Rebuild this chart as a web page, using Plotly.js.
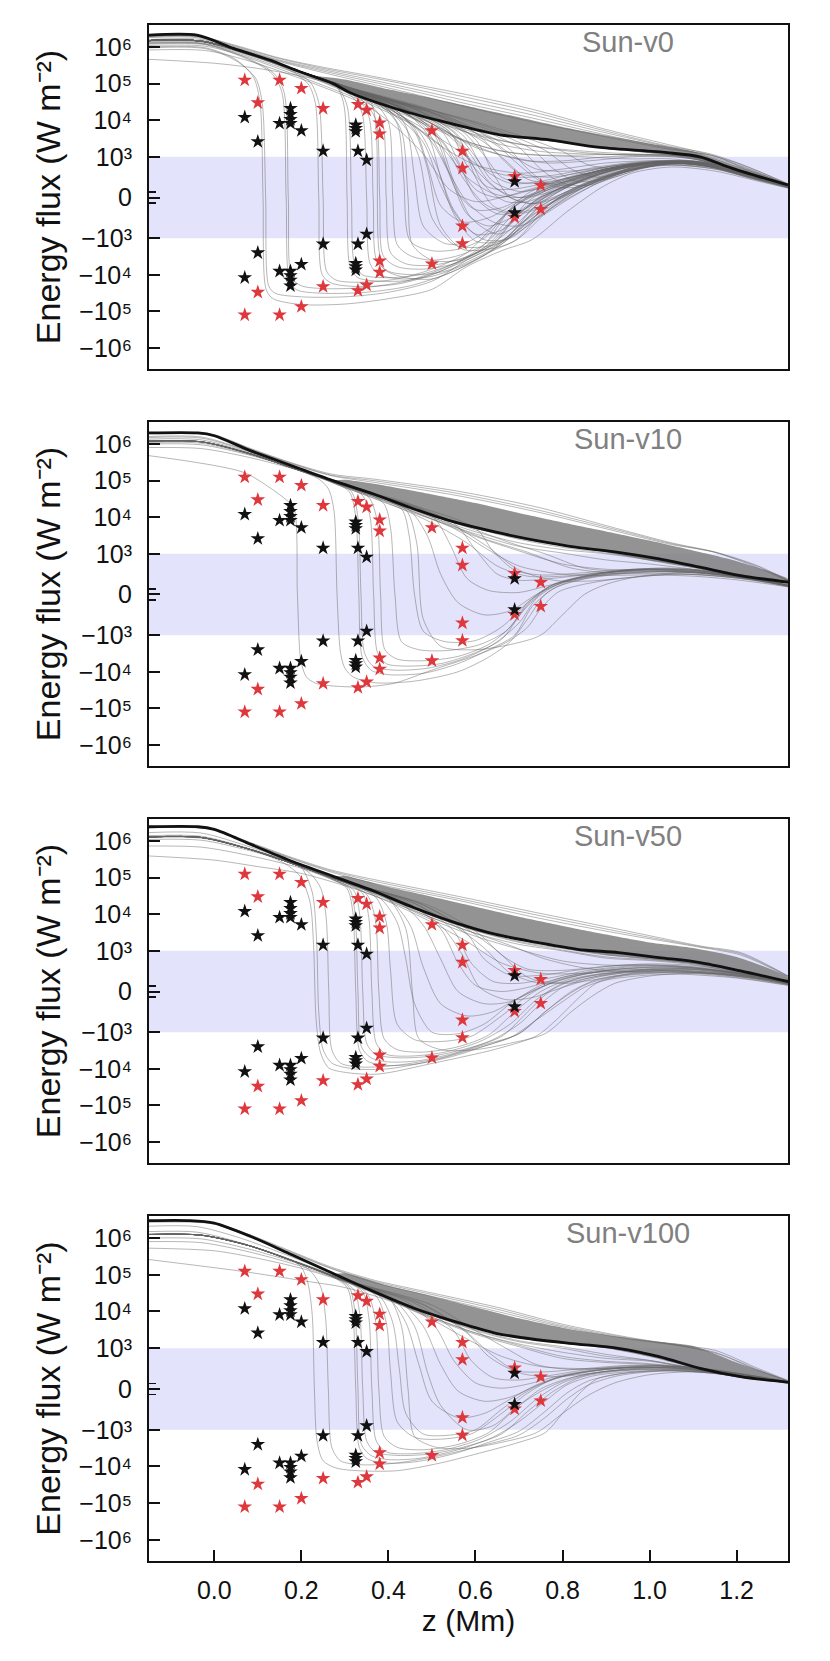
<!DOCTYPE html>
<html><head><meta charset="utf-8">
<script src="https://cdn.plot.ly/plotly-3.0.1.min.js"></script>
<style>body{margin:0;background:#fff}#chart{width:830px;height:1661px}</style>
</head><body><div id="chart"></div>
<script>
// ---------------- data (flux in W m^-2, z in Mm) ----------------
const panelNames = ['Sun-v0','Sun-v10','Sun-v50','Sun-v100'];
const xTickVals = [0,0.2,0.4,0.6,0.8,1.0,1.2];
const xTickText = ['0.0','0.2','0.4','0.6','0.8','1.0','1.2'];
const yTickFlux = [-1e6,-1e5,-1e4,-1e3,0,1e3,1e4,1e5,1e6];
const yTickText = ['\u221210\u2076','\u221210\u2075','\u221210\u2074','\u221210\u00B3','0','10\u00B3','10\u2074','10\u2075','10\u2076'];
const yTitle = 'Energy flux (W m\u207B\u00B2)';

// stars (same in every panel)
const redZ = [0.07,0.07,0.15,0.15,0.20,0.20,0.10,0.10,0.25,0.25,0.33,0.33,0.35,0.35,0.38,0.38,0.38,0.38,0.50,0.50,0.57,0.57,0.57,0.57,0.69,0.69,0.75,0.75];
const redF = [1.25e5,-1.25e5,1.25e5,-1.25e5,7.4e4,-7.4e4,3.0e4,-3.0e4,2.1e4,-2.1e4,2.7e4,-2.7e4,1.9e4,-1.9e4,8.5e3,-8.5e3,4.2e3,-4.2e3,5.2e3,-5.0e3,1.44e3,-1.4e3,720,-700,520,-490,300,-290];
const blackZ = [0.07,0.07,0.10,0.10,0.15,0.15,0.175,0.175,0.175,0.175,0.175,0.175,0.175,0.175,0.20,0.20,0.25,0.25,0.325,0.325,0.325,0.325,0.325,0.325,0.33,0.33,0.35,0.35,0.69,0.69];
const blackF = [1.2e4,-1.2e4,2.6e3,-2.5e3,8.2e3,-8.0e3,2.1e4,1.45e4,1.05e4,8.2e3,-8.0e3,-1.05e4,-1.4e4,-2.0e4,5.2e3,-5.2e3,1.44e3,-1.44e3,7.4e3,6.0e3,4.9e3,-7.4e3,-6.0e3,-4.9e3,1.44e3,-1.44e3,920,-900,390,-375];

// ---- panel 1 (Sun-v0)
const p1BlackZ = [-0.15,-0.04,0.044,0.128,0.197,0.273,0.31,0.427,0.54,0.656,0.77,0.886,1.04,1.116,1.19,1.318];
const p1BlackF = [2.1e6,2.1e6,9.2e5,4.4e5,2.1e5,1.0e5,5.8e4,1.9e4,8.3e3,4.0e3,2.9e3,1.8e3,1.3e3,1.0e3,717,307];
const p1FillZ = [0.22,0.3,0.4,0.5,0.6,0.7,0.8,0.9,1.0,1.1,1.2,1.318];
const p1FillHi = [1.7e5,1.3e5,7e4,4e4,2.2e4,1.2e4,6.5e3,3.8e3,2.3e3,1.4e3,780,320];
const p1FillLo = [1.6e5,7.0e4,2.6e4,1.1e4,5.8e3,3.3e3,2.4e3,1.7e3,1.25e3,950,620,290];
const p1Lines = [
 [-0.15,2.0e6,-0.04,2.0e6,0.05,1.1e6,0.15,5e5,0.25,2.8e5,0.35,1.7e5,0.45,1.0e5,0.58,5e4,0.73,2e4,0.89,6e3,1.04,2.2e3,1.12,1.3e3,1.2,850,1.318,340],
 [-0.15,2.05e6,-0.04,2.05e6,0.05,1.05e6,0.15,4.8e5,0.25,2.6e5,0.35,1.55e5,0.45,9e4,0.58,4.2e4,0.73,1.7e4,0.89,5.4e3,1.04,2.0e3,1.14,1.2e3,1.22,780,1.318,330],
 [-0.15,1.9e6,-0.04,1.9e6,0.05,1.0e6,0.15,4.4e5,0.25,2.4e5,0.35,1.35e5,0.45,7.5e4,0.58,3.4e4,0.73,1.4e4,0.89,4.8e3,1.04,1.9e3,1.12,1.2e3,1.2,800,1.318,320],
 [-0.15,1.95e6,-0.04,1.95e6,0.05,9.5e5,0.15,4.2e5,0.25,2.2e5,0.35,1.2e5,0.45,6.5e4,0.58,2.8e4,0.73,1.15e4,0.89,4.2e3,1.04,1.75e3,1.14,1.1e3,1.22,740,1.318,310],
 [-0.15,1.8e6,-0.04,1.8e6,0.05,9e5,0.15,4e5,0.25,2.0e5,0.35,1.05e5,0.45,5.5e4,0.58,2.3e4,0.73,9e3,0.89,3.7e3,1.04,1.65e3,1.15,1.05e3,1.22,700,1.318,300],
 [-0.15,1.6e6,-0.03,1.6e6,0.06,7.5e5,0.15,3.2e5,0.25,1.3e5,0.35,5e4,0.45,1.8e4,0.55,7e3,0.65,3e3,0.75,1.8e3,0.85,1.3e3,0.95,1.1e3,1.05,1.05e3,1.15,850,1.25,500,1.318,260],
 [-0.15,1.3e6,-0.03,1.25e6,0.06,6.5e5,0.15,2.8e5,0.25,1.1e5,0.35,4e4,0.45,1.2e4,0.55,3.5e3,0.65,1.5e3,0.75,1.1e3,0.85,1.0e3,0.95,950,1.05,950,1.15,800,1.25,450,1.318,240],
 [-0.15,1.1e6,-0.02,1.05e6,0.07,5.5e5,0.15,2.5e5,0.25,9e4,0.35,3e4,0.45,8e3,0.52,2e3,0.6,800,0.7,600,0.8,700,0.9,850,1.0,900,1.1,850,1.2,600,1.318,300],
 [-0.15,4.6e5,0.0,3.6e5,0.1,2.6e5,0.2,1.6e5,0.3,8e4,0.4,3e4,0.5,1e4,0.6,4e3,0.7,2.2e3,0.8,1.6e3,0.9,1.3e3,1.0,1.15e3,1.1,1.0e3,1.2,650,1.318,300],
 [-0.15,8.3e5,-0.02,8e5,0.07,4.5e5,0.15,2.2e5,0.25,8e4,0.35,2.5e4,0.42,6e3,0.48,1.2e3,0.54,200,0.6,-100,0.66,0,0.74,250,0.84,550,0.95,750,1.05,800,1.15,700,1.25,450,1.318,250],
 [-0.15,1.5e6,-0.03,1.45e6,0.08,6.5e5,0.2,2.1e5,0.3,7e4,0.4,2.4e4,0.5,8e3,0.58,2.5e3,0.65,1.2e3,0.72,900,0.8,900,0.9,1e3,1.0,1.05e3,1.1,950,1.2,650,1.318,300],
 [-0.15,1.45e6,-0.03,1.4e6,0.08,6.3e5,0.2,2e5,0.3,6.5e4,0.4,2e4,0.48,6e3,0.55,1.8e3,0.62,700,0.7,500,0.78,550,0.88,750,1.0,900,1.1,880,1.2,620,1.318,290],
 [-0.15,1.35e6,-0.03,1.3e6,0.08,6e5,0.2,1.9e5,0.3,6e4,0.4,1.8e4,0.46,7e3,0.52,2e3,0.58,500,0.64,100,0.7,0,0.77,200,0.86,550,0.96,800,1.06,850,1.16,720,1.26,430,1.318,270]
];
const p1Dips = [
 [-0.15,1.0e6,-0.02,9.5e5,0.05,4.5e5,0.09,1.5e5,0.105,3e4,0.112,0,0.119,-2.5e4,0.135,-4.5e4,0.2,-6.5e4,0.3,-6.3e4,0.4,-4.5e4,0.5,-2.5e4,0.58,-6e3,0.66,-2.2e3,0.73,-1.1e3,0.81,-350,0.89,250,0.96,600,1.05,750,1.15,650,1.25,400,1.318,230],
 [-0.15,9.5e5,-0.02,9e5,0.05,4.2e5,0.095,1.4e5,0.11,3e4,0.118,0,0.125,-2e4,0.14,-3.2e4,0.2,-4e4,0.3,-4e4,0.4,-3e4,0.5,-1.5e4,0.58,-4e3,0.66,-1.3e3,0.72,-500,0.8,0,0.88,400,0.96,700,1.05,800,1.15,700,1.25,420,1.318,240],
 [-0.15,1.2e6,-0.02,1.15e6,0.07,5e5,0.13,2e5,0.155,6e4,0.165,0,0.173,-1.5e4,0.19,-2.6e4,0.25,-3.2e4,0.35,-3e4,0.45,-2e4,0.55,-8e3,0.63,-2.5e3,0.7,-700,0.77,0,0.85,450,0.95,750,1.05,850,1.15,750,1.25,450,1.318,250],
 [-0.15,1.25e6,-0.02,1.2e6,0.07,5.3e5,0.135,2e5,0.16,6e4,0.17,0,0.178,-1.2e4,0.2,-2e4,0.26,-2.4e4,0.35,-2.2e4,0.45,-1.4e4,0.55,-5e3,0.62,-1.5e3,0.68,-300,0.75,200,0.84,550,0.95,800,1.05,850,1.15,750,1.25,450,1.318,260],
 [-0.15,1.45e6,-0.03,1.4e6,0.07,6.5e5,0.17,2.4e5,0.215,1e5,0.232,3e4,0.24,0,0.248,-1e4,0.27,-1.7e4,0.33,-2.1e4,0.42,-1.8e4,0.5,-1e4,0.58,-3.5e3,0.65,-1e3,0.72,-100,0.8,350,0.9,700,1.0,850,1.1,850,1.2,600,1.318,280],
 [-0.15,1.5e6,-0.03,1.45e6,0.07,6.8e5,0.17,2.5e5,0.22,1.1e5,0.24,3e4,0.25,0,0.258,-8e3,0.28,-1.4e4,0.34,-1.6e4,0.42,-1.3e4,0.5,-7e3,0.58,-2.5e3,0.65,-600,0.72,100,0.8,450,0.9,750,1.0,880,1.1,870,1.2,620,1.318,290]
];
const p1Lead = [-0.15,1.5e6,-0.03,1.45e6,0.08,6.5e5,0.2,2.1e5];
const p1Tails = [
 [0.28,8.5e4,0.298,2.5e4,0.305,0,0.312,-6e3,0.33,-1.2e4,0.38,-1.5e4,0.45,-1.4e4,0.52,-8e3,0.6,-3e3,0.67,-1e3,0.74,-200,0.82,300,0.92,700,1.02,870,1.12,850,1.22,580,1.318,280],
 [0.28,8.8e4,0.305,2.5e4,0.315,0,0.322,-5e3,0.34,-1e4,0.4,-1.2e4,0.47,-1e4,0.55,-5e3,0.62,-1.8e3,0.69,-500,0.76,100,0.85,500,0.95,800,1.05,880,1.15,780,1.25,480,1.318,270],
 [0.28,9e4,0.32,4e4,0.34,1.5e4,0.35,0,0.358,-5e3,0.38,-1e4,0.43,-1.3e4,0.5,-1.1e4,0.58,-5e3,0.65,-1.8e3,0.72,-600,0.8,50,0.88,450,0.98,800,1.08,850,1.18,650,1.318,270],
 [0.28,9.2e4,0.33,3.8e4,0.355,1.3e4,0.365,0,0.373,-4e3,0.4,-8e3,0.46,-1e4,0.53,-8e3,0.6,-3.5e3,0.67,-1.2e3,0.74,-300,0.82,200,0.9,550,1.0,820,1.1,840,1.2,600,1.318,280],
 [0.28,9.5e4,0.34,3.5e4,0.37,1.1e4,0.38,0,0.388,-3e3,0.42,-6e3,0.48,-7e3,0.55,-5e3,0.62,-2e3,0.69,-700,0.76,0,0.84,400,0.94,750,1.04,860,1.14,780,1.24,480,1.318,270],
 [0.28,9.5e4,0.35,3.3e4,0.385,1e4,0.395,0,0.405,-2.5e3,0.44,-5e3,0.5,-5.5e3,0.57,-3.5e3,0.64,-1.5e3,0.7,-400,0.78,150,0.86,500,0.96,800,1.06,860,1.16,720,1.26,430,1.318,280],
 [0.3,8e4,0.37,2.8e4,0.4,9e3,0.41,0,0.42,-1.5e3,0.45,-3e3,0.5,-4e3,0.56,-3e3,0.62,-1.5e3,0.68,-500,0.75,0,0.83,400,0.93,700,1.03,850,1.13,780,1.23,480,1.318,270],
 [0.3,8e4,0.38,2.6e4,0.42,8e3,0.435,500,0.45,-1.2e3,0.5,-2.2e3,0.56,-2e3,0.62,-1e3,0.68,-300,0.74,100,0.82,450,0.92,750,1.02,870,1.12,800,1.22,520,1.318,280],
 [0.3,8.2e4,0.4,2.4e4,0.44,7e3,0.46,500,0.48,-700,0.53,-1.4e3,0.58,-1.3e3,0.64,-700,0.7,-150,0.77,200,0.86,550,0.96,800,1.06,870,1.16,740,1.26,440,1.318,280],
 [0.3,8.2e4,0.4,2.5e4,0.46,6e3,0.49,800,0.52,-200,0.57,-600,0.63,-500,0.7,-100,0.78,300,0.88,650,0.98,830,1.08,860,1.18,680,1.318,290],
 [0.3,8.5e4,0.4,2.6e4,0.48,7e3,0.52,1.2e3,0.56,100,0.6,-300,0.66,-250,0.72,50,0.8,350,0.9,700,1.0,850,1.1,860,1.2,620,1.318,290],
 [0.3,8.5e4,0.42,2.4e4,0.5,6e3,0.55,1e3,0.6,200,0.65,0,0.7,100,0.78,350,0.88,650,0.98,830,1.08,870,1.18,700,1.318,300],
 [0.3,8.5e4,0.43,2.3e4,0.54,5e3,0.58,800,0.63,250,0.68,200,0.76,350,0.86,600,0.96,800,1.06,870,1.16,760,1.26,460,1.318,290],
 [0.3,8.6e4,0.45,2e4,0.57,4e3,0.62,700,0.68,350,0.75,400,0.85,650,0.95,820,1.05,880,1.15,800,1.25,480,1.318,300],
 [0.3,8e4,0.39,2.5e4,0.43,5e3,0.445,0,0.455,-1.5e3,0.5,-4e3,0.56,-4e3,0.62,-2e3,0.7,-800,0.78,-100,0.86,300,0.95,650,1.05,820,1.15,740,1.25,450,1.318,260],
 [0.3,8e4,0.36,3e4,0.372,5e3,0.378,-2e3,0.39,-7e3,0.44,-1.2e4,0.5,-1.3e4,0.56,-7e3,0.63,-2.5e3,0.7,-1e3,0.77,-300,0.85,250,0.95,650,1.05,800,1.15,720,1.25,430,1.318,250],
 [0.3,8e4,0.4,2.2e4,0.47,5e3,0.51,800,0.55,-300,0.6,-900,0.66,-800,0.72,-300,0.78,150,0.86,500,0.96,800,1.06,870,1.16,740,1.318,280],
 [0.3,8e4,0.41,2.3e4,0.5,5e3,0.54,600,0.58,-400,0.63,-700,0.69,-450,0.75,0,0.83,400,0.93,750,1.03,870,1.13,800,1.23,500,1.318,280],
 [0.3,8e4,0.42,2.4e4,0.52,5.5e3,0.56,900,0.6,0,0.65,-400,0.7,-350,0.76,0,0.84,380,0.94,720,1.04,860,1.14,800,1.24,490,1.318,280],
 [0.3,8.3e4,0.43,2.5e4,0.53,6e3,0.58,1.2e3,0.62,300,0.67,-100,0.72,-100,0.78,150,0.86,480,0.96,780,1.06,870,1.16,760,1.318,290],
 [0.3,8.3e4,0.45,2.2e4,0.55,5e3,0.6,1e3,0.64,400,0.7,150,0.76,250,0.84,500,0.94,780,1.04,880,1.14,820,1.24,500,1.318,290],
 [0.3,8.5e4,0.46,2.2e4,0.57,5e3,0.62,1.1e3,0.66,500,0.72,350,0.8,450,0.9,700,1.0,860,1.1,880,1.2,650,1.318,300],
 [0.3,8.5e4,0.48,2e4,0.6,4.5e3,0.65,1.2e3,0.7,600,0.77,500,0.86,650,0.96,840,1.06,890,1.16,780,1.318,300],
 [0.3,8.5e4,0.5,1.9e4,0.62,4e3,0.68,1.2e3,0.74,700,0.82,650,0.92,780,1.02,880,1.12,870,1.22,600,1.318,300],
 [0.3,8e4,0.39,2.4e4,0.44,6e3,0.47,1e3,0.5,-500,0.55,-1.5e3,0.6,-1.8e3,0.66,-1.3e3,0.72,-600,0.78,-100,0.85,300,0.94,650,1.04,830,1.14,760,1.318,270],
 [0.3,8e4,0.41,2.2e4,0.46,5e3,0.49,700,0.52,-700,0.57,-2e3,0.63,-2e3,0.69,-1.2e3,0.75,-400,0.81,50,0.88,400,0.97,700,1.07,840,1.17,720,1.318,270],
 [0.3,8.2e4,0.43,2e4,0.49,4e3,0.52,500,0.55,-400,0.6,-1.2e3,0.66,-1.2e3,0.72,-700,0.78,-200,0.84,200,0.92,550,1.02,800,1.12,820,1.22,560,1.318,280],
 [0.3,8.2e4,0.44,2e4,0.51,4e3,0.55,400,0.59,-500,0.65,-900,0.71,-600,0.77,-150,0.83,250,0.92,600,1.02,820,1.12,820,1.22,540,1.318,280],
 [0.3,8.4e4,0.47,1.8e4,0.56,3.5e3,0.6,500,0.64,-200,0.7,-400,0.76,-200,0.82,150,0.9,500,1.0,780,1.1,840,1.2,620,1.318,290],
 [0.3,8.4e4,0.5,1.6e4,0.6,3e3,0.64,600,0.68,0,0.73,-150,0.79,50,0.86,350,0.95,680,1.05,850,1.15,780,1.318,290],
 [0.3,7.5e4,0.4,2.5e4,0.5,7e3,0.6,2.2e3,0.7,1.2e3,0.8,1.1e3,0.9,1.15e3,1.0,1.15e3,1.1,1.0e3,1.2,680,1.318,310],
 [0.3,7.5e4,0.42,2.3e4,0.52,6e3,0.6,1.8e3,0.68,1e3,0.76,850,0.86,900,0.96,1.0e3,1.06,1.0e3,1.16,820,1.26,480,1.318,290],
 [0.3,7.8e4,0.45,2.3e4,0.55,6.5e3,0.65,2.3e3,0.75,1.4e3,0.85,1.2e3,0.95,1.15e3,1.05,1.1e3,1.15,880,1.25,520,1.318,300],
 [0.3,7.8e4,0.45,2.2e4,0.55,7e3,0.62,2.5e3,0.67,900,0.72,450,0.78,350,0.85,500,0.93,750,1.02,900,1.12,880,1.22,600,1.318,300],
 [0.3,7.8e4,0.47,2e4,0.58,6e3,0.65,2e3,0.7,800,0.75,400,0.81,300,0.88,500,0.96,780,1.05,900,1.15,800,1.318,300],
 [0.3,8e4,0.5,1.6e4,0.6,5.5e3,0.67,2e3,0.72,700,0.77,300,0.83,250,0.9,500,0.98,800,1.08,900,1.18,700,1.318,300],
 [0.3,8e4,0.52,1.4e4,0.63,4.5e3,0.7,1.8e3,0.75,700,0.8,350,0.86,300,0.92,500,1.0,780,1.1,890,1.2,650,1.318,300],
 [0.3,8e4,0.55,1.2e4,0.66,4e3,0.73,1.6e3,0.78,700,0.83,400,0.9,450,0.98,700,1.06,880,1.16,800,1.318,300],
 [0.3,8.2e4,0.58,1e4,0.69,3.5e3,0.76,1.5e3,0.82,700,0.88,500,0.95,650,1.03,850,1.13,860,1.23,580,1.318,300],
 [0.3,8.2e4,0.6,9e3,0.72,3.2e3,0.8,1.4e3,0.86,800,0.93,700,1.0,850,1.1,900,1.2,650,1.318,305],
 [0.3,7.6e4,0.42,2.4e4,0.5,8e3,0.56,2.2e3,0.6,700,0.65,200,0.7,0,0.76,100,0.83,350,0.92,680,1.02,860,1.12,850,1.22,560,1.318,290],
 [0.3,7.6e4,0.4,2.5e4,0.48,8e3,0.53,2e3,0.57,500,0.62,-150,0.68,-400,0.74,-250,0.8,100,0.88,450,0.98,780,1.08,860,1.18,680,1.318,290],
 [0.3,7.7e4,0.43,2.3e4,0.52,6.5e3,0.58,1.6e3,0.63,400,0.68,0,0.73,-150,0.79,0,0.86,350,0.95,700,1.05,860,1.15,780,1.318,290],
 [0.3,7.5e4,0.38,2.8e4,0.45,9e3,0.5,2.5e3,0.54,600,0.58,-100,0.64,-600,0.7,-700,0.76,-400,0.82,0,0.89,400,0.98,750,1.08,850,1.18,680,1.318,280],
 [0.3,7.5e4,0.37,3e4,0.43,1e4,0.48,2.5e3,0.52,300,0.56,-500,0.62,-1.1e3,0.68,-1e3,0.74,-500,0.8,-100,0.87,300,0.96,680,1.06,840,1.16,720,1.318,270]
];

// ---- panel 2 (Sun-v10)
const p2BlackZ = [-0.15,-0.0375,0,0.084,0.178,0.272,0.366,0.459,0.553,0.647,0.741,0.834,0.928,1.022,1.116,1.209,1.318];
const p2BlackF = [2.0e6,2.0e6,1.68e6,6.5e5,2.55e5,1.0e5,4.3e4,1.68e4,7.3e3,3.9e3,2.3e3,1.5e3,1.1e3,876,671,466,303];
const p2FillZ = [0.27,0.3,0.4,0.5,0.6,0.7,0.8,0.9,1.0,1.1,1.2,1.318];
const p2FillHi = [1.0e5,1.05e5,7e4,4.2e4,2.45e4,1.3e4,7.2e3,4.1e3,2.3e3,1.23e3,820,380];
const p2FillLo = [9.5e4,7.2e4,2.8e4,1.05e4,4.8e3,2.6e3,1.65e3,1.1e3,830,650,450,290];
const p2Lines = [
 [-0.15,2.0e6,-0.04,2.0e6,0.0,1.8e6,0.084,7.5e5,0.18,3e5,0.27,1.5e5,0.366,1.1e5,0.553,5.3e4,0.741,1.9e4,0.928,4.8e3,1.05,2e3,1.153,1.1e3,1.25,700,1.318,345],
 [-0.15,1.95e6,-0.04,1.95e6,0.0,1.75e6,0.084,7.2e5,0.18,2.9e5,0.27,1.4e5,0.366,1.0e5,0.553,4.6e4,0.741,1.6e4,0.928,4.4e3,1.05,1.9e3,1.15,1.1e3,1.25,680,1.318,335],
 [-0.15,1.9e6,-0.04,1.9e6,0.0,1.7e6,0.084,7e5,0.18,2.8e5,0.27,1.35e5,0.366,9e4,0.553,4e4,0.741,1.4e4,0.928,4e3,1.05,1.8e3,1.15,1.1e3,1.25,650,1.318,330],
 [-0.15,1.36e6,-0.03,1.3e6,0.08,5.8e5,0.2,2e5,0.3,7e4,0.4,2.6e4,0.5,9e3,0.6,3.5e3,0.7,1.6e3,0.8,1.05e3,0.9,850,1.0,750,1.1,620,1.2,450,1.318,250],
 [-0.15,1.1e6,-0.03,1.05e6,0.08,5.2e5,0.2,1.9e5,0.3,6.5e4,0.4,2.4e4,0.5,7e3,0.58,2e3,0.65,700,0.72,450,0.8,450,0.9,550,1.0,620,1.1,560,1.2,430,1.318,230],
 [-0.15,1.0e6,-0.03,9.5e5,0.08,5e5,0.2,1.9e5,0.3,7e4,0.4,2.7e4,0.5,1e4,0.6,4e3,0.7,2e3,0.8,1.3e3,0.9,1e3,1.0,850,1.1,700,1.2,500,1.318,270],
 [-0.15,8e5,-0.03,7.5e5,0.08,4.3e5,0.2,1.8e5,0.3,6.5e4,0.4,2.3e4,0.55,5e3,0.62,1.5e3,0.7,700,0.8,500,0.9,470,1.0,480,1.1,450,1.2,360,1.318,190],
 [-0.15,1.6e6,-0.03,1.55e6,0.08,6.5e5,0.2,2.2e5,0.3,8e4,0.4,3e4,0.5,1.2e4,0.6,5e3,0.7,2.5e3,0.8,1.5e3,0.9,1.05e3,1.0,880,1.1,680,1.2,470,1.318,280],
 [-0.15,1.5e6,-0.03,1.45e6,0.08,6.2e5,0.2,2.1e5,0.3,7.5e4,0.4,2.8e4,0.5,1.1e4,0.6,4.5e3,0.68,2e3,0.76,1e3,0.85,650,0.95,560,1.05,560,1.15,500,1.25,380,1.318,220]
];
const p2Dips = [
 [-0.15,4.8e5,0.066,1.7e5,0.131,6e4,0.165,3e4,0.183,1.8e4,0.191,0,0.199,-5e3,0.212,-1.4e4,0.235,-2.1e4,0.33,-2.6e4,0.41,-2.1e4,0.5,-9e3,0.6,-3.6e3,0.67,-1.6e3,0.72,-800,0.75,-350,0.79,60,0.84,230,0.93,390,1.07,500,1.21,390,1.318,190]
];
const p2Lead = [-0.15,1.2e6,-0.03,1.15e6,0.08,5.5e5,0.18,2.2e5];
const p2Tails = [
 [0.24,1.1e5,0.262,6e4,0.275,1.5e4,0.282,0,0.29,-3e3,0.3,-8e3,0.32,-1.4e4,0.37,-2e4,0.46,-1.8e4,0.56,-1e4,0.63,-4e3,0.68,-1.5e3,0.72,-600,0.76,0,0.8,250,0.88,450,1.0,560,1.12,520,1.22,400,1.318,200],
 [0.27,9e4,0.31,5e4,0.325,1e4,0.332,0,0.34,-4e3,0.36,-9e3,0.4,-1.2e4,0.48,-1.1e4,0.56,-6e3,0.63,-2.5e3,0.69,-1e3,0.73,-300,0.78,150,0.85,380,0.95,520,1.08,560,1.2,430,1.318,210],
 [0.27,9.5e4,0.315,5e4,0.33,1e4,0.337,0,0.345,-3e3,0.365,-7e3,0.41,-9e3,0.49,-8e3,0.57,-4.5e3,0.64,-1.8e3,0.7,-700,0.74,-100,0.79,250,0.87,450,0.97,560,1.1,560,1.22,420,1.318,210],
 [0.28,8.5e4,0.34,4e4,0.358,1e4,0.366,0,0.375,-3e3,0.395,-6e3,0.44,-7e3,0.52,-6e3,0.6,-3e3,0.66,-1.3e3,0.71,-400,0.76,100,0.82,350,0.9,500,1.0,600,1.12,560,1.22,420,1.318,215],
 [0.3,7.5e4,0.355,3.5e4,0.374,8e3,0.382,0,0.392,-2.5e3,0.42,-4.5e3,0.48,-5e3,0.56,-3.8e3,0.63,-1.8e3,0.68,-800,0.72,-200,0.77,200,0.85,430,0.95,580,1.08,580,1.2,440,1.318,220],
 [0.33,6e4,0.39,2.3e4,0.405,5e3,0.415,0,0.43,-1.5e3,0.47,-2.5e3,0.54,-2.6e3,0.61,-1.8e3,0.67,-900,0.72,-250,0.77,200,0.85,450,0.95,600,1.1,590,1.2,450,1.318,220],
 [0.35,5e4,0.43,1.7e4,0.448,3e3,0.46,0,0.48,-900,0.53,-1.5e3,0.6,-1.4e3,0.66,-800,0.72,-200,0.78,250,0.86,480,0.96,620,1.1,600,1.2,450,1.318,220],
 [0.35,5e4,0.45,1.5e4,0.49,3e3,0.52,500,0.56,-200,0.62,-500,0.68,-400,0.74,0,0.8,300,0.88,500,1.0,620,1.12,580,1.22,430,1.318,215],
 [0.35,5e4,0.5,1.1e4,0.54,2e3,0.58,400,0.63,100,0.7,50,0.76,200,0.84,420,0.94,580,1.06,620,1.18,500,1.318,220],
 [0.35,5e4,0.55,7e3,0.6,1.3e3,0.65,500,0.7,350,0.78,400,0.88,520,1.0,640,1.12,600,1.22,450,1.318,225],
 [0.35,5e4,0.6,5e3,0.64,1.2e3,0.69,600,0.75,480,0.83,520,0.93,600,1.05,650,1.18,520,1.318,230],
 [0.35,5e4,0.44,1.6e4,0.465,2e3,0.48,-600,0.52,-2e3,0.6,-2.5e3,0.68,-1.8e3,0.75,-1e3,0.8,-500,0.85,0,0.9,250,0.98,450,1.1,550,1.2,440,1.318,210],
 [0.3,7e4,0.4,2.6e4,0.5,9e3,0.6,3e3,0.7,1.2e3,0.8,750,0.9,620,1.0,600,1.1,540,1.2,420,1.318,240],
 [0.3,7.2e4,0.42,2.5e4,0.52,8e3,0.62,2.6e3,0.72,1.1e3,0.82,650,0.92,520,1.02,520,1.12,490,1.22,380,1.318,220],
 [0.3,7.4e4,0.45,2.3e4,0.55,6e3,0.63,1.5e3,0.7,600,0.78,350,0.86,330,0.96,420,1.06,500,1.16,450,1.26,330,1.318,210]
];

// ---- panel 3 (Sun-v50)
const p3BlackZ = [-0.15,-0.0375,0,0.084,0.178,0.272,0.366,0.459,0.553,0.647,0.741,0.834,0.928,1.022,1.116,1.209,1.318];
const p3BlackF = [2.45e6,2.45e6,2.07e6,8.1e5,2.8e5,1.1e5,4.3e4,1.5e4,5.9e3,2.8e3,1.7e3,1.1e3,957,834,712,507,245];
const p3FillZ = [0.27,0.3,0.4,0.5,0.6,0.7,0.8,0.9,1.0,1.1,1.2,1.318];
const p3FillHi = [1.05e5,1.1e5,5.5e4,3e4,1.6e4,8.5e3,4.8e3,2.8e3,1.7e3,1.2e3,850,350];
const p3FillLo = [1.0e5,7.8e4,2.8e4,9e3,3.8e3,1.95e3,1.2e3,900,800,680,500,240];
const p3Lines = [
 [-0.15,2.4e6,-0.04,2.4e6,0.0,2.1e6,0.084,9e5,0.18,3.5e5,0.27,1.6e5,0.366,8.9e4,0.553,3.2e4,0.741,1.1e4,0.928,3.9e3,1.116,1.36e3,1.209,957,1.318,385],
 [-0.15,2.35e6,-0.04,2.35e6,0.0,2.05e6,0.084,8.7e5,0.18,3.3e5,0.27,1.5e5,0.366,8e4,0.553,2.8e4,0.741,9.5e3,0.928,3.4e3,1.116,1.3e3,1.209,930,1.318,375],
 [-0.15,2.3e6,-0.04,2.3e6,0.0,2.0e6,0.084,8.5e5,0.18,3.2e5,0.27,1.4e5,0.366,7e4,0.553,2.5e4,0.741,8e3,0.928,3e3,1.116,1.25e3,1.209,900,1.318,370],
 [-0.15,1.7e6,-0.03,1.65e6,0.08,7e5,0.2,2.3e5,0.3,8e4,0.4,2.8e4,0.5,9e3,0.6,3.5e3,0.7,1.7e3,0.8,1.05e3,0.9,850,1.0,780,1.1,680,1.2,480,1.318,230],
 [-0.15,1.1e6,-0.03,1.05e6,0.08,5.5e5,0.2,2.1e5,0.3,7.5e4,0.4,2.5e4,0.5,7e3,0.6,2.5e3,0.7,1.1e3,0.8,750,0.9,650,1.0,650,1.1,600,1.2,450,1.318,220],
 [-0.15,7.3e5,-0.03,6.8e5,0.08,4e5,0.2,1.8e5,0.3,6.5e4,0.4,2.2e4,0.5,6e3,0.58,1.8e3,0.66,700,0.75,450,0.85,450,0.95,520,1.05,560,1.15,520,1.25,380,1.318,210],
 [-0.15,3.9e5,0.0,3e5,0.1,2e5,0.2,1.3e5,0.3,6e4,0.4,2.3e4,0.5,8e3,0.6,3e3,0.7,1.5e3,0.8,1e3,0.9,820,1.0,760,1.1,660,1.2,470,1.318,230],
 [-0.15,1.4e6,-0.03,1.35e6,0.08,6.2e5,0.2,2.2e5,0.3,7.8e4,0.4,2.6e4,0.5,8e3,0.6,3e3,0.68,1.4e3,0.76,800,0.86,560,0.96,480,1.06,480,1.16,440,1.26,330,1.318,200],
 [-0.15,1.25e6,-0.03,1.2e6,0.08,6e5,0.2,2.2e5,0.3,8e4,0.4,2.7e4,0.5,9e3,0.6,3.6e3,0.7,1.8e3,0.8,1.15e3,0.9,900,1.0,800,1.1,700,1.2,500,1.318,240]
];
const p3Dips = [
 [-0.15,1.3e6,-0.03,1.25e6,0.08,6e5,0.16,2.5e5,0.197,1.1e5,0.22,2.1e4,0.228,1.5e3,0.234,-700,0.244,-3.6e3,0.2625,-9.4e3,0.3,-1.25e4,0.375,-1.4e4,0.506,-6.9e3,0.647,-2.9e3,0.741,-1.25e3,0.7875,-680,0.834,-190,0.881,220,0.975,385,1.069,425,1.2,330,1.318,150]
];
const p3Lead = [-0.15,1.3e6,-0.03,1.25e6,0.08,6e5,0.18,2.4e5];
const p3Tails = [
 [0.2,1.9e5,0.225,4e4,0.235,2e3,0.24,-500,0.25,-3e3,0.27,-7e3,0.32,-1e4,0.4,-1e4,0.5,-6e3,0.6,-2.8e3,0.68,-1.4e3,0.74,-700,0.8,-250,0.85,100,0.92,350,1.02,450,1.12,430,1.22,320,1.318,160],
 [0.22,1.3e5,0.245,5e4,0.257,8e3,0.263,0,0.27,-3e3,0.29,-7e3,0.34,-9e3,0.42,-8e3,0.52,-5e3,0.62,-2.2e3,0.7,-1.1e3,0.76,-500,0.81,-100,0.86,200,0.94,400,1.04,470,1.14,440,1.24,320,1.318,170],
 [0.27,9e4,0.305,5e4,0.318,1.2e4,0.325,0,0.333,-3e3,0.35,-6e3,0.39,-8e3,0.46,-7.5e3,0.55,-4.5e3,0.63,-2.2e3,0.7,-1.1e3,0.76,-500,0.82,0,0.88,300,0.97,450,1.07,480,1.17,420,1.26,300,1.318,180],
 [0.27,9.2e4,0.31,5e4,0.323,1.1e4,0.33,0,0.338,-2.5e3,0.36,-5e3,0.4,-6.5e3,0.47,-6e3,0.56,-3.5e3,0.64,-1.6e3,0.7,-800,0.75,-300,0.8,100,0.86,330,0.95,460,1.05,500,1.15,440,1.25,320,1.318,185],
 [0.27,9.5e4,0.32,4.5e4,0.334,1e4,0.341,0,0.35,-2e3,0.37,-4e3,0.42,-5e3,0.5,-4.5e3,0.58,-2.8e3,0.66,-1.3e3,0.72,-500,0.77,0,0.83,300,0.92,460,1.02,510,1.12,470,1.22,350,1.318,190],
 [0.28,9e4,0.34,3.8e4,0.355,8e3,0.362,0,0.372,-2e3,0.395,-4e3,0.45,-4.5e3,0.53,-3.5e3,0.61,-1.8e3,0.68,-800,0.74,-200,0.8,200,0.87,400,0.97,500,1.07,510,1.17,440,1.27,300,1.318,200],
 [0.28,9e4,0.35,3.5e4,0.37,7e3,0.378,0,0.39,-1.5e3,0.42,-3e3,0.48,-3.5e3,0.56,-2.5e3,0.63,-1.2e3,0.69,-500,0.75,0,0.81,280,0.89,440,0.99,520,1.09,510,1.19,420,1.318,200],
 [0.28,9e4,0.37,3e4,0.395,6e3,0.405,500,0.42,-800,0.46,-1.6e3,0.52,-1.8e3,0.59,-1.3e3,0.66,-600,0.72,-100,0.78,250,0.86,450,0.96,540,1.06,530,1.16,460,1.26,320,1.318,205],
 [0.28,9e4,0.38,2.8e4,0.42,6e3,0.44,800,0.46,-300,0.5,-1e3,0.56,-1.1e3,0.62,-800,0.68,-300,0.74,100,0.8,350,0.9,520,1.0,580,1.1,550,1.2,430,1.318,210],
 [0.28,9e4,0.4,2.6e4,0.45,5e3,0.48,600,0.52,-300,0.58,-600,0.64,-500,0.7,-150,0.76,150,0.84,400,0.94,560,1.04,600,1.14,540,1.24,390,1.318,215],
 [0.28,9e4,0.42,2.4e4,0.48,5e3,0.52,800,0.56,0,0.62,-300,0.68,-250,0.74,50,0.8,300,0.9,520,1.0,600,1.1,580,1.2,450,1.318,220],
 [0.28,9e4,0.44,2.2e4,0.52,4e3,0.56,700,0.6,150,0.66,0,0.72,100,0.79,320,0.88,520,0.98,620,1.08,600,1.18,480,1.318,225],
 [0.28,9e4,0.46,2e4,0.55,3.5e3,0.59,700,0.64,250,0.7,200,0.77,330,0.86,520,0.96,630,1.06,620,1.16,520,1.26,360,1.318,230],
 [0.28,9e4,0.48,1.8e4,0.58,3e3,0.62,800,0.68,400,0.75,400,0.83,520,0.93,640,1.03,650,1.13,580,1.23,420,1.318,235],
 [0.28,9e4,0.5,1.6e4,0.61,2.8e3,0.66,900,0.72,550,0.8,520,0.9,620,1.0,680,1.1,640,1.2,500,1.318,240],
 [0.28,9e4,0.4,2.6e4,0.44,4e3,0.455,0,0.47,-1.5e3,0.52,-3e3,0.6,-3e3,0.68,-2e3,0.76,-1.1e3,0.82,-500,0.87,-100,0.92,200,1.0,380,1.1,450,1.2,370,1.318,180],
 [0.28,9e4,0.45,2.2e4,0.55,5e3,0.62,1.2e3,0.68,450,0.75,200,0.82,250,0.9,420,1.0,560,1.1,560,1.2,440,1.318,220],
 [0.28,9e4,0.47,2e4,0.58,4e3,0.65,1e3,0.72,350,0.8,200,0.88,300,0.98,480,1.08,540,1.18,460,1.318,215],
 [0.28,9e4,0.43,2.3e4,0.52,5e3,0.57,900,0.61,100,0.67,-200,0.73,-150,0.8,100,0.88,350,0.98,520,1.08,550,1.18,450,1.318,215]
];

// ---- panel 4 (Sun-v100)
const p4BlackZ = [-0.15,-0.056,0,0.084,0.178,0.272,0.366,0.459,0.553,0.647,0.741,0.834,0.928,1.022,1.116,1.209,1.318];
const p4BlackF = [3.0e6,3.0e6,2.55e6,1.1e6,3.5e5,1.1e5,3.5e4,1.23e4,5.3e3,2.55e3,1.7e3,1.3e3,998,794,507,303,164];
const p4FillZ = [0.27,0.3,0.4,0.5,0.6,0.7,0.8,0.9,1.0,1.1,1.2,1.318];
const p4FillHi = [1.05e5,1.1e5,5e4,2.6e4,1.3e4,6.5e3,3.6e3,2.3e3,1.6e3,1.15e3,650,190];
const p4FillLo = [1.0e5,7.2e4,2.1e4,7.5e3,3.4e3,1.85e3,1.35e3,1.0e3,790,520,300,160];
const p4Lines = [
 [-0.15,2.9e6,-0.05,2.9e6,0.0,2.6e6,0.084,1.2e6,0.18,4.2e5,0.27,1.6e5,0.37,7e4,0.5,3.2e4,0.65,1.3e4,0.8,4.5e3,0.95,2e3,1.07,1.2e3,1.15,950,1.25,500,1.318,210],
 [-0.15,2.8e6,-0.05,2.8e6,0.0,2.5e6,0.084,1.12e6,0.18,4.0e5,0.27,1.5e5,0.37,6.5e4,0.5,2.9e4,0.65,1.15e4,0.8,4.1e3,0.95,1.9e3,1.07,1.18e3,1.15,900,1.25,470,1.318,200],
 [-0.15,2.7e6,-0.05,2.7e6,0.0,2.4e6,0.084,1.05e6,0.18,3.8e5,0.27,1.45e5,0.37,6e4,0.5,2.6e4,0.65,1.0e4,0.8,3.8e3,0.95,1.8e3,1.07,1.15e3,1.16,850,1.25,450,1.318,195],
 [-0.15,2.1e6,-0.04,2.05e6,0.06,1.0e6,0.18,3e5,0.3,8e4,0.4,2.5e4,0.5,8e3,0.6,3.2e3,0.7,1.6e3,0.8,1.1e3,0.9,850,1.0,700,1.1,500,1.2,300,1.318,160],
 [-0.15,1.5e6,-0.04,1.45e6,0.06,7.5e5,0.18,2.5e5,0.3,7.5e4,0.4,2.2e4,0.5,6.5e3,0.6,2.4e3,0.7,1.1e3,0.8,750,0.9,650,1.0,600,1.1,480,1.2,300,1.318,160],
 [-0.15,1.0e6,-0.03,9.5e5,0.08,5e5,0.2,1.9e5,0.3,7e4,0.4,2.3e4,0.5,7e3,0.6,2.6e3,0.7,1.3e3,0.8,900,0.9,750,1.0,680,1.1,500,1.2,310,1.318,165],
 [-0.15,5.3e5,0.0,4.5e5,0.1,2.8e5,0.2,1.5e5,0.3,6.5e4,0.4,2.4e4,0.5,8e3,0.6,3e3,0.7,1.5e3,0.8,1e3,0.9,800,1.0,700,1.1,520,1.2,320,1.318,170],
 [-0.15,2.6e5,0.066,1.23e5,0.2,7e4,0.3,4.5e4,0.4,2e4,0.5,7e3,0.6,2.6e3,0.7,1.2e3,0.8,800,0.9,680,1.0,620,1.1,490,1.2,310,1.318,165],
 [-0.15,8e5,-0.03,7.5e5,0.08,4.2e5,0.2,1.7e5,0.3,6.5e4,0.4,2.1e4,0.5,6e3,0.58,1.8e3,0.66,800,0.75,550,0.85,500,0.95,520,1.05,520,1.15,420,1.25,280,1.318,160]
];
const p4Dips = [];
const p4Lead = [-0.15,1.25e6,-0.03,1.2e6,0.08,6.2e5,0.18,2.4e5];
const p4Tails = [
 [0.2,1.6e5,0.215,6e4,0.225,8e3,0.23,0,0.236,-2e3,0.25,-7e3,0.28,-1.1e4,0.33,-1.3e4,0.42,-1.3e4,0.52,-8e3,0.62,-4e3,0.7,-2.2e3,0.76,-1.2e3,0.8,-600,0.84,-100,0.88,250,0.95,400,1.05,450,1.15,380,1.25,250,1.318,150],
 [0.22,1.3e5,0.245,4.5e4,0.256,6e3,0.262,0,0.27,-3e3,0.29,-7e3,0.34,-9e3,0.42,-8e3,0.52,-5e3,0.62,-2.6e3,0.7,-1.4e3,0.76,-700,0.81,-250,0.86,100,0.93,330,1.03,440,1.13,400,1.23,270,1.318,155],
 [0.27,9e4,0.305,4.5e4,0.318,1e4,0.325,0,0.333,-3e3,0.35,-6e3,0.39,-8e3,0.46,-7.5e3,0.55,-4.5e3,0.63,-2.2e3,0.7,-1.1e3,0.76,-550,0.81,-100,0.86,200,0.94,380,1.04,450,1.14,400,1.24,270,1.318,155],
 [0.27,9.2e4,0.31,4.5e4,0.323,1e4,0.33,0,0.338,-2.5e3,0.36,-5e3,0.4,-6.5e3,0.47,-6e3,0.56,-3.5e3,0.64,-1.6e3,0.7,-800,0.76,-300,0.81,100,0.87,320,0.96,430,1.06,460,1.16,390,1.26,260,1.318,158],
 [0.27,9.5e4,0.32,4e4,0.334,9e3,0.341,0,0.35,-2e3,0.37,-4e3,0.42,-5e3,0.5,-4.5e3,0.58,-2.8e3,0.66,-1.3e3,0.72,-550,0.78,-50,0.84,280,0.92,430,1.02,480,1.12,430,1.22,300,1.318,160],
 [0.28,8.5e4,0.34,3.5e4,0.355,7e3,0.362,0,0.372,-2e3,0.395,-4e3,0.45,-4.5e3,0.53,-3.5e3,0.61,-1.8e3,0.68,-800,0.74,-250,0.8,150,0.87,380,0.97,480,1.07,480,1.17,390,1.27,250,1.318,160],
 [0.28,8.5e4,0.35,3.2e4,0.37,6e3,0.378,0,0.39,-1.5e3,0.42,-3e3,0.48,-3.5e3,0.56,-2.5e3,0.63,-1.2e3,0.69,-500,0.75,0,0.81,250,0.89,420,0.99,490,1.09,470,1.19,360,1.318,165],
 [0.28,8.5e4,0.37,2.8e4,0.395,5e3,0.405,400,0.42,-800,0.46,-1.6e3,0.52,-1.8e3,0.59,-1.3e3,0.66,-600,0.72,-100,0.78,250,0.86,430,0.96,520,1.06,500,1.16,400,1.26,260,1.318,165],
 [0.28,8.5e4,0.38,2.6e4,0.41,5e3,0.425,500,0.44,-600,0.48,-1.3e3,0.54,-1.4e3,0.6,-1e3,0.66,-500,0.72,-50,0.78,250,0.86,440,0.96,530,1.06,510,1.16,410,1.26,265,1.318,165],
 [0.28,8.5e4,0.4,2.3e4,0.44,5e3,0.47,600,0.5,-300,0.56,-700,0.62,-600,0.68,-250,0.74,100,0.8,320,0.9,480,1.0,540,1.1,500,1.2,370,1.318,170],
 [0.28,8.5e4,0.42,2.1e4,0.48,4e3,0.52,600,0.56,-50,0.62,-300,0.68,-200,0.74,80,0.8,300,0.9,480,1.0,560,1.1,520,1.2,380,1.318,170],
 [0.28,8.5e4,0.44,1.9e4,0.51,3.5e3,0.55,700,0.6,150,0.66,20,0.72,120,0.79,320,0.88,480,0.98,560,1.08,540,1.18,420,1.318,175],
 [0.28,8.5e4,0.46,1.7e4,0.55,3e3,0.59,700,0.64,280,0.7,220,0.77,330,0.86,480,0.96,570,1.06,560,1.16,450,1.26,290,1.318,175],
 [0.28,8.5e4,0.48,1.5e4,0.58,2.6e3,0.63,800,0.69,450,0.76,420,0.85,500,0.95,580,1.05,580,1.15,470,1.25,300,1.318,180],
 [0.28,8.5e4,0.4,2.4e4,0.43,4e3,0.445,0,0.46,-1.5e3,0.51,-3e3,0.58,-3.2e3,0.66,-2.2e3,0.74,-1.2e3,0.8,-600,0.86,-150,0.92,150,1.0,350,1.1,420,1.2,320,1.318,160],
 [0.28,8.5e4,0.47,1.8e4,0.57,3.5e3,0.63,900,0.7,400,0.78,300,0.86,380,0.96,500,1.06,520,1.16,430,1.26,280,1.318,170],
 [0.28,8.5e4,0.5,1.5e4,0.6,3e3,0.67,1e3,0.74,600,0.82,480,0.92,520,1.02,560,1.12,500,1.22,330,1.318,175],
 [0.28,8.5e4,0.41,2.2e4,0.46,4e3,0.49,400,0.52,-400,0.58,-1e3,0.64,-900,0.7,-400,0.76,0,0.83,300,0.92,460,1.02,520,1.12,470,1.22,330,1.318,165]
];

// ---------------- symmetric-log mapping (linthresh 1e3, linscale 1) ----------------
const LT = 1e3, LS = 1/(1-1/10);
function T(f){ const a=Math.abs(f), s=f<0?-1:1; return a<=LT ? s*LS*a/LT : s*(LS+Math.log10(a/LT)); }

const panels = [
 {black:[p1BlackZ,p1BlackF], fill:[p1FillZ,p1FillHi,p1FillLo], lines:p1Lines, dips:p1Dips, lead:p1Lead, tails:p1Tails},
 {black:[p2BlackZ,p2BlackF], fill:[p2FillZ,p2FillHi,p2FillLo], lines:p2Lines, dips:p2Dips, lead:p2Lead, tails:p2Tails},
 {black:[p3BlackZ,p3BlackF], fill:[p3FillZ,p3FillHi,p3FillLo], lines:p3Lines, dips:p3Dips, lead:p3Lead, tails:p3Tails},
 {black:[p4BlackZ,p4BlackF], fill:[p4FillZ,p4FillHi,p4FillLo], lines:p4Lines, dips:p4Dips, lead:p4Lead, tails:p4Tails}
];

const GRAY = {color:'rgba(100,100,100,0.62)', width:0.75, shape:'spline', smoothing:0.8};
const traces = [];
function kn(arr){ const x=[],y=[]; for(let i=0;i<arr.length;i+=2){x.push(arr[i]); y.push(T(arr[i+1]));} return [x,y]; }

panels.forEach((p,k)=>{
  const xa = k===0?'x':'x'+(k+1), ya = k===0?'y':'y'+(k+1);
  const fz=p.fill[0], hi=p.fill[1].map(T), lo=p.fill[2].map(T);
  traces.push({x:fz.concat(fz.slice().reverse()), y:hi.concat(lo.slice().reverse()), xaxis:xa, yaxis:ya,
    type:'scatter', mode:'lines', fill:'toself', fillcolor:'rgba(128,128,128,0.85)', line:{width:0, shape:'spline', smoothing:0.6}, hoverinfo:'skip'});
  const all = p.lines.concat(p.dips).concat(p.tails.map(t=>p.lead.concat(t)));
  all.forEach(a=>{ const [x,y]=kn(a); traces.push({x:x,y:y,xaxis:xa,yaxis:ya,type:'scatter',mode:'lines',line:GRAY,hoverinfo:'skip'}); });
  traces.push({x:p.black[0], y:p.black[1].map(T), xaxis:xa, yaxis:ya, type:'scatter', mode:'lines',
    line:{color:'#111', width:2.8, shape:'spline', smoothing:0.8}, hoverinfo:'skip'});
  traces.push({x:redZ, y:redF.map(T), xaxis:xa, yaxis:ya, type:'scatter', mode:'markers',
    marker:{symbol:'star', size:11, color:'rgb(222,55,60)', line:{width:0}}, hoverinfo:'skip'});
  traces.push({x:blackZ, y:blackF.map(T), xaxis:xa, yaxis:ya, type:'scatter', mode:'markers',
    marker:{symbol:'star', size:11, color:'#111', line:{width:0}}, hoverinfo:'skip'});
});

const FONT = 'Liberation Sans, Arial, Helvetica, sans-serif';
const domains = [[0.77604,1.0],[0.51758,0.74154],[0.25911,0.48307],[0,0.22461]];
const layout = {
  width:830, height:1661, margin:{l:149,r:42,t:25,b:100},
  paper_bgcolor:'#fff', plot_bgcolor:'#fff', showlegend:false, hovermode:false,
  font:{family:FONT, color:'#111', size:25},
  shapes:[], annotations:[]
};
for(let k=0;k<4;k++){
  const xn = k===0?'xaxis':'xaxis'+(k+1), yn = k===0?'yaxis':'yaxis'+(k+1);
  const ya = k===0?'y':'y'+(k+1), xa = k===0?'x':'x'+(k+1);
  layout[xn] = {domain:[0,1], anchor:ya, range:[-0.15,1.318], showline:true, mirror:true, linecolor:'#111', linewidth:2,
    showgrid:false, zeroline:false, tickmode:'array', tickvals:xTickVals, ticktext:xTickText,
    ticks: k===3?'inside':'', ticklen:11, tickwidth:2, tickcolor:'#111', showticklabels:k===3,
    tickfont:{size:25, family:FONT, color:'#111'}, ticklabelstandoff:6};
  if(k===3) layout[xn].title = {text:'z (Mm)', font:{size:30, family:FONT, color:'#111'}, standoff:6};
  layout[yn] = {domain:domains[k], anchor:xa, range:[-4.685,4.712], showline:true, mirror:true, linecolor:'#111', linewidth:2,
    showgrid:false, zeroline:false, tickmode:'array', tickvals:yTickFlux.map(T), ticktext:yTickText,
    ticks:'inside', ticklen:11, tickwidth:2, tickcolor:'#111', tickfont:{size:25, family:FONT, color:'#111'}, ticklabelstandoff:10,
    minor:{tickmode:'array', tickvals:[-0.15,0.15], ticks:'inside', ticklen:7, tickwidth:1.5, tickcolor:'#111'},
    title:{text:yTitle, font:{size:34, family:FONT, color:'#111'}, standoff:8}};
  layout.shapes.push({type:'rect', xref:xa+' domain', yref:ya, x0:0, x1:1, y0:T(-1e3), y1:T(1e3),
    fillcolor:'#e3e3fb', line:{width:0}, layer:'below'});
  layout.annotations.push({text:panelNames[k], xref:xa+' domain', yref:ya+' domain', x:0.7496, y:1-17/344,
    xanchor:'center', yanchor:'middle', showarrow:false, font:{size:29, family:FONT, color:'#808080'}});
}
Plotly.newPlot('chart', traces, layout, {staticPlot:true, displayModeBar:false});
</script></body></html>
